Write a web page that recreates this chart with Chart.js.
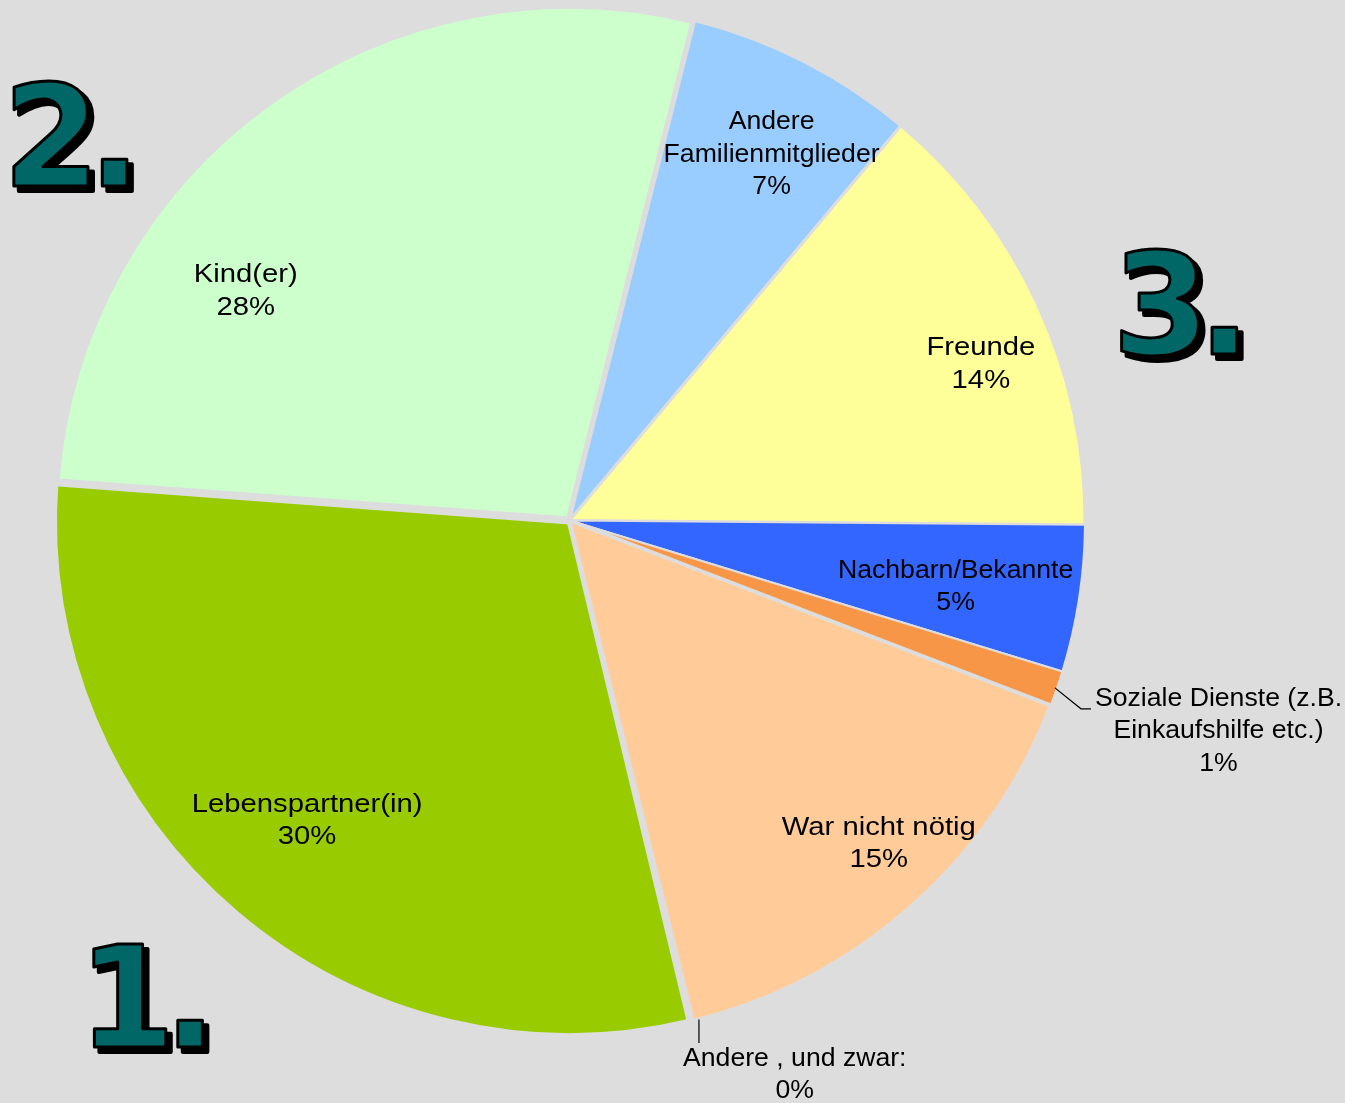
<!DOCTYPE html>
<html>
<head>
<meta charset="utf-8">
<title>Hilfe im Alltag</title>
<script src="https://cdn.jsdelivr.net/npm/chart.js@4.4.1/dist/chart.umd.min.js"></script>
<style>
    html, body { margin: 0; padding: 0; background: #dddddd; }
    #wrap { width: 1345px; height: 1103px; }
</style>
</head>
<body>
<div id="wrap"><canvas id="pie" width="1345" height="1103"></canvas></div>
<script>
// who helped - shares in percent
const categories = [
    ['Lebenspartner(in)'],
    ['Kind(er)'],
    ['Andere', 'Familienmitglieder'],
    ['Freunde'],
    ['Nachbarn/Bekannte'],
    ['Soziale Dienste (z.B.', 'Einkaufshilfe etc.)'],
    ['War nicht nötig'],
    ['Andere , und zwar:']
];
const shares = [29.9, 27.7, 7.2, 14.0, 4.6, 1.1, 15.3, 0.1];
const rankLabels = ['1.', '2.', '3.'];

const sliceColors = ['#99cc00', '#ccffcc', '#99ccff', '#ffff99', '#3366ff', '#f79646', '#ffcc99', '#dddddd'];
const sliceBorders = [6, 8, 3, 3, 2, 2, 4, 3];

// label anchor relative to pie centre, in units of radius; outside labels get a leader line
const labelSpots = [
    { x: -0.509, y: 0.583, wide: true },
    { x: -0.628, y: -0.444, wide: true },
    { x: 0.392, y: -0.709 },
    { x: 0.798, y: -0.302, wide: true },
    { x: 0.749, y: 0.129 },
    { x: 1.259, y: 0.409, leader: 'elbow' },
    { x: 0.600, y: 0.628, wide: true },
    { x: 0.437, y: 1.076, leader: 'down' }
];
// where the big rank numbers sit (fraction of canvas size)
const rankSpots = [
    { x: 0.058, y: 0.949 },
    { x: 0.002, y: 0.169 },
    { x: 0.827, y: 0.321 }
];

const total = shares.reduce((a, b) => a + b, 0);

const labelFont = '25px "Liberation Sans", Arial, sans-serif';
const lineH = 32.5;

const sliceLabels = {
    id: 'sliceLabels',
    afterDatasetsDraw(chart) {
        const ctx = chart.ctx;
        const arcs = chart.getDatasetMeta(0).data;
        ctx.save();
        ctx.font = labelFont;
        ctx.fillStyle = '#000';
        ctx.strokeStyle = '#000';
        ctx.lineWidth = 1.2;
        ctx.textAlign = 'center';
        ctx.textBaseline = 'middle';
        arcs.forEach((arc, i) => {
            const spot = labelSpots[i];
            const stretch = spot.wide ? 1.17 : 1.065;
            const r = arc.outerRadius;
            const cx = arc.x + spot.x * r;
            const cy = arc.y + spot.y * r;
            const lines = categories[i].concat([Math.round(shares[i] / total * 100) + '%']);
            const top = cy - (lines.length - 1) * lineH / 2;

            lines.forEach((line, k) => {
                ctx.save();
                ctx.translate(cx, top + k * lineH);
                ctx.scale(stretch, 1);
                ctx.fillText(line, 0, 0);
                ctx.restore();
            });

            if (spot.leader) {
                const mid = (arc.startAngle + arc.endAngle) / 2;
                const sx = arc.x + Math.cos(mid) * (r - 2);
                const sy = arc.y + Math.sin(mid) * (r - 2);
                ctx.beginPath();
                if (spot.leader === 'elbow') {
                    const w = ctx.measureText(lines[0]).width * stretch;
                    const ex = cx - w / 2 - 4;
                    const ey = top + 10;
                    ctx.moveTo(sx, sy);
                    ctx.lineTo(ex - 10, ey);
                    ctx.lineTo(ex, ey);
                } else {
                    ctx.moveTo(sx + 8, sy);
                    ctx.lineTo(sx + 8, top - 16);
                }
                ctx.stroke();
            }
        });
        ctx.restore();
    }
};

const rankNumbers = {
    id: 'rankNumbers',
    afterDraw(chart) {
        const ctx = chart.ctx;
        ctx.save();
        ctx.font = 'bold 140px "DejaVu Sans", Verdana, sans-serif';
        ctx.textAlign = 'left';
        ctx.textBaseline = 'alphabetic';
        ctx.letterSpacing = '-12px';
        ctx.lineJoin = 'round';
        rankLabels.forEach((txt, i) => {
            const x = rankSpots[i].x * chart.width;
            const y = rankSpots[i].y * chart.height;
            // drop shadow
            ctx.fillStyle = '#000';
            ctx.strokeStyle = '#000';
            ctx.lineWidth = 4;
            ctx.fillText(txt, x + 5, y + 5);
            ctx.strokeText(txt, x + 5, y + 5);
            // face
            ctx.fillStyle = '#006666';
            ctx.lineWidth = 3;
            ctx.fillText(txt, x, y);
            ctx.strokeText(txt, x, y);
        });
        ctx.restore();
    }
};

new Chart(document.getElementById('pie'), {
    type: 'pie',
    data: {
        labels: categories,
        datasets: [{
            data: shares,
            backgroundColor: sliceColors,
            borderColor: '#dddddd',
            borderWidth: sliceBorders
        }]
    },
    options: {
        responsive: false,
        animation: false,
        rotation: 166.5,
        layout: { padding: { left: 50, right: 256, top: 1, bottom: 63 } },
        plugins: {
            legend: { display: false },
            tooltip: { enabled: false }
        }
    },
    plugins: [sliceLabels, rankNumbers]
});
</script>
</body>
</html>
